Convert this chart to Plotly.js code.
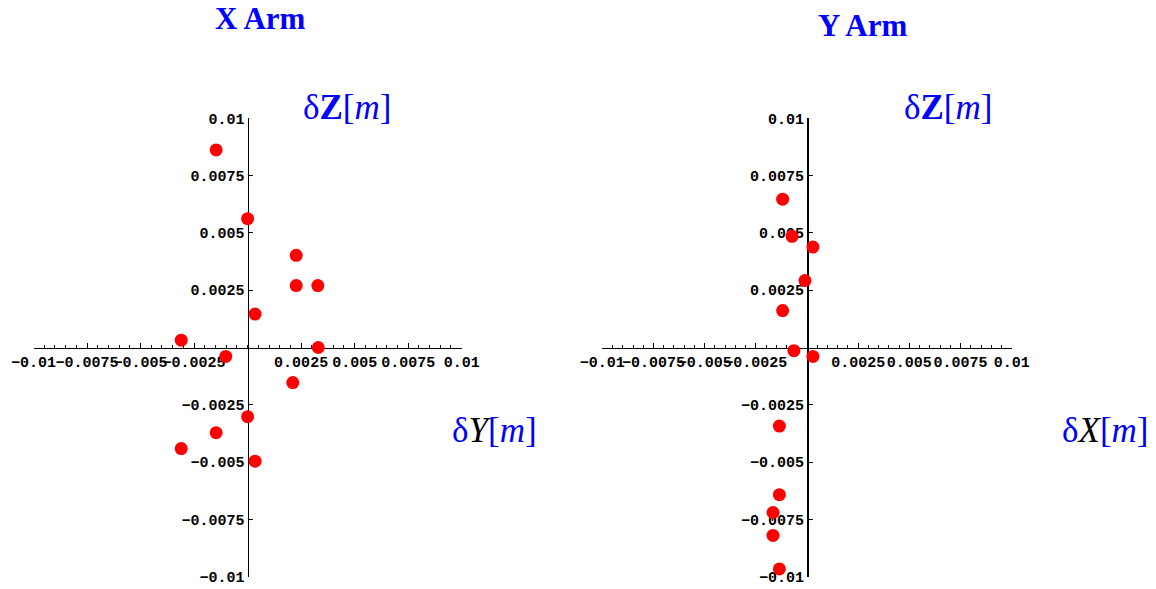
<!DOCTYPE html>
<html>
<head>
<meta charset="utf-8">
<script src="https://cdn.plot.ly/plotly-3.0.1.min.js"></script>
<style>html,body{margin:0;padding:0;background:#fff;}#chart{width:1156px;height:589px;}</style>
</head>
<body>
<div id="chart"></div>
<script>
// X Arm: dY (horizontal) vs dZ (vertical)
const xArmDY = [-0.00147, 0.0000, 0.00227, 0.00227, 0.00328, 0.00035, -0.0031, 0.0033, -0.00102, 0.00211, 0.0000, -0.00147, -0.0031, 0.00035];
const xArmDZ = [0.00862, 0.00562, 0.00402, 0.0027, 0.0027, 0.00146, 0.00032, 0.0000, -0.00039, -0.00153, -0.00302, -0.00372, -0.00441, -0.00496];
// Y Arm: dX (horizontal) vs dZ (vertical)
const yArmDX = [-0.00119, -0.00073, 0.00029, -0.0001, -0.00119, -0.00064, 0.00029, -0.00135, -0.00135, -0.00166, -0.00166, -0.00135];
const yArmDZ = [0.00647, 0.00485, 0.00438, 0.00292, 0.00161, -0.00014, -0.00039, -0.00343, -0.00642, -0.0072, -0.0082, -0.00966];

const tickVals = [-0.01, -0.0075, -0.005, -0.0025, 0.0025, 0.005, 0.0075, 0.01];
const tickText = ["\u22120.01", "\u22120.0075", "\u22120.005", "\u22120.0025", "0.0025", "0.005", "0.0075", "0.01"];

const W = 1156, H = 589;
const xdom1 = [33.5 / W, 461.7 / W];
const xdom2 = [602.3 / W, 1011.7 / W];
const ydom = [1 - 576.7 / H, 1 - 118.3 / H];
const mid = d => (d[0] + d[1]) / 2;

const tickFont = {family: "Liberation Mono, DejaVu Sans Mono, monospace", size: 15, color: "#000", weight: 600};

function xax(dom) {
  return {
    domain: dom, range: [-0.01, 0.01], anchor: "free", position: mid(ydom),
    showline: true, linecolor: "#000", linewidth: 1.5, showgrid: false, zeroline: false,
    ticks: "inside", ticklen: 5, tickwidth: 1, tickcolor: "#000",
    tickmode: "array", tickvals: tickVals, ticktext: tickText, tickangle: 0,
    tickfont: tickFont, layer: "below traces",
    minor: {dtick: 0.0005, tick0: 0, ticks: "inside", ticklen: 3, tickwidth: 1, tickcolor: "#000", showgrid: false}
  };
}
function yax(dom, xdom) {
  return {
    domain: dom, range: [-0.01, 0.01], anchor: "free", position: mid(xdom),
    showline: true, linecolor: "#000", linewidth: 1.5, showgrid: false, zeroline: false,
    ticks: "inside", ticklen: 4, tickwidth: 1, tickcolor: "#000",
    tickmode: "array", tickvals: tickVals, ticktext: tickText,
    tickfont: tickFont, layer: "below traces"
  };
}

const marker = {color: "#ff0000", size: 13};
const data = [
  {x: xArmDY, y: xArmDZ, type: "scatter", mode: "markers", marker: marker, xaxis: "x", yaxis: "y", cliponaxis: false, hoverinfo: "x+y"},
  {x: yArmDX, y: yArmDZ, type: "scatter", mode: "markers", marker: marker, xaxis: "x2", yaxis: "y2", cliponaxis: false, hoverinfo: "x+y"}
];

const serif = "Liberation Serif, Times New Roman, serif";
const blue = "#0000ff";
const layout = {
  width: W, height: H,
  margin: {l: 0, r: 0, t: 0, b: 0},
  paper_bgcolor: "#fff", plot_bgcolor: "rgba(0,0,0,0)",
  showlegend: false,
  xaxis: xax(xdom1), yaxis: yax(ydom, xdom1),
  xaxis2: xax(xdom2), yaxis2: yax(ydom, xdom2),
  annotations: [
    {xref: "paper", yref: "paper", x: 260 / W, y: 1 - 19 / H, text: "<b>X Arm</b>", showarrow: false,
     font: {family: serif, size: 31, color: blue}, xanchor: "center", yanchor: "middle"},
    {xref: "paper", yref: "paper", x: 862 / W, y: 1 - 26 / H, text: "<b>Y Arm</b>", showarrow: false,
     font: {family: serif, size: 31, color: blue}, xanchor: "center", yanchor: "middle"},
    {xref: "paper", yref: "paper", x: 347 / W, y: 1 - 108 / H, text: "δ<b>Z</b>[<i>m</i>]", showarrow: false,
     font: {family: serif, size: 35, color: blue}, xanchor: "center", yanchor: "middle"},
    {xref: "paper", yref: "paper", x: 494 / W, y: 1 - 430 / H, text: "δ<span style=\"color:#000\"><i>Y</i></span>[<i>m</i>]", showarrow: false,
     font: {family: serif, size: 35, color: blue}, xanchor: "center", yanchor: "middle"},
    {xref: "paper", yref: "paper", x: 948 / W, y: 1 - 108 / H, text: "δ<b>Z</b>[<i>m</i>]", showarrow: false,
     font: {family: serif, size: 35, color: blue}, xanchor: "center", yanchor: "middle"},
    {xref: "paper", yref: "paper", x: 1105 / W, y: 1 - 430 / H, text: "δ<span style=\"color:#000\"><i>X</i></span>[<i>m</i>]", showarrow: false,
     font: {family: serif, size: 35, color: blue}, xanchor: "center", yanchor: "middle"}
  ]
};

Plotly.newPlot("chart", data, layout, {displayModeBar: false, staticPlot: true});
</script>
</body>
</html>
